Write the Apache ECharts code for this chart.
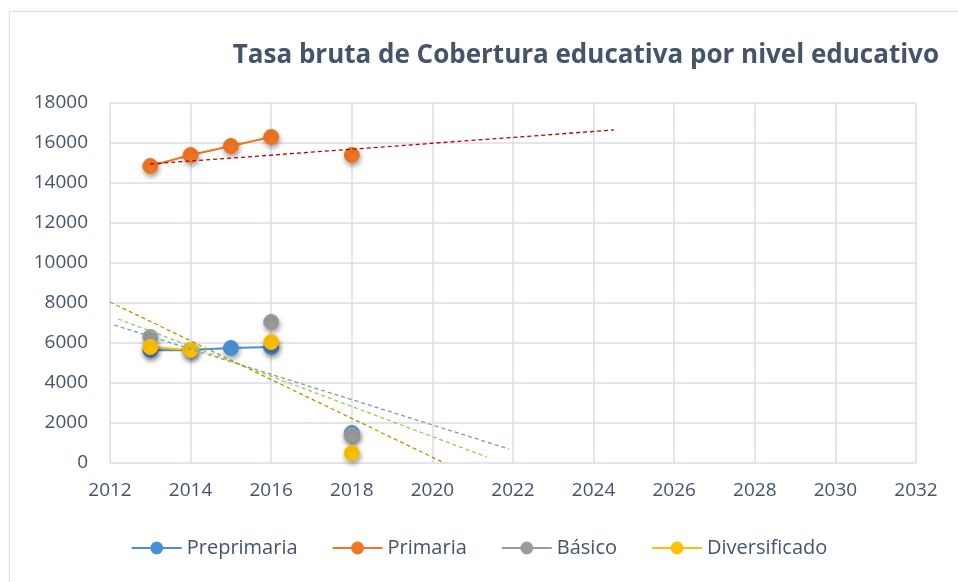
<!DOCTYPE html>
<html>
<head>
<meta charset="utf-8">
<script src="https://cdn.jsdelivr.net/npm/echarts@6/dist/echarts.min.js"></script>
<style>
  html, body { margin: 0; padding: 0; background: #fff; }
  #chart { width: 958px; height: 582px; }
</style>
</head>
<body>
<div id="chart"></div>
<script>
// años y valores (null = sin dato)
const years = [2013, 2014, 2015, 2016, 2017, 2018];
const preprimaria = [5650, 5650, 5750, 5800, null, 1500];
const primaria = [14850, 15400, 15850, 16300, null, 15400];
const basico = [6300, null, null, 7050, null, 1400];
const diversificado = [5800, 5650, null, 6050, null, 500];

// líneas de tendencia: [año, valor] inicio y fin
const trendPrimaria = [[2013, 14950], [2024.5, 16650]];
const trendPreprimaria = [[2012.1, 6900], [2021.9, 700]];
const trendBasico = [[2012.2, 7200], [2021.35, 300]];
const trendDiversificado = [[2012, 8050], [2020.3, 0]];

const xTicks = [2012, 2032, 2];
const yTicks = [0, 18000, 2000];

const textColor = '#44546A';
const fontFamily = '"Open Sans", "Liberation Sans", sans-serif';

const chart = echarts.init(document.getElementById('chart'));

function pairs(vals) {
  return years.map((y, i) => [y, vals[i]]);
}

function dataSeries(name, color, vals) {
  return {
    name: name,
    type: 'line',
    data: pairs(vals),
    connectNulls: false,
    symbol: 'circle',
    symbolSize: 15,
    lineStyle: { color: color, width: 2.25 },
    itemStyle: {
      color: color,
      borderColor: color,
      shadowColor: 'rgba(0,0,0,0.35)',
      shadowBlur: 5,
      shadowOffsetX: 1,
      shadowOffsetY: 3
    },
    z: 3
  };
}

function trendSeries(color, pts) {
  return {
    type: 'line',
    data: pts,
    symbol: 'none',
    silent: true,
    lineStyle: { color: color, width: 1.3, type: [4, 3] },
    z: 4
  };
}

chart.setOption({
  animation: false,
  backgroundColor: '#fff',
  textStyle: { fontFamily: fontFamily },
  title: {
    text: 'Tasa bruta de Cobertura educativa por nivel educativo',
    right: 14,
    top: 38,
    textStyle: { fontSize: 26, fontWeight: 'bold', color: textColor, fontFamily: fontFamily }
  },
  graphic: [{
    type: 'rect',
    shape: { x: 9.5, y: 11.5, width: 960, height: 580 },
    style: { fill: 'none', stroke: '#D9DEE6', lineWidth: 1 },
    silent: true
  }],
  legend: {
    bottom: 19,
    left: 'center',
    itemGap: 34,
    itemWidth: 50,
    itemHeight: 16,
    data: ['Preprimaria', 'Primaria', 'Básico', 'Diversificado'],
    textStyle: { fontSize: 20, color: textColor, fontFamily: fontFamily }
  },
  grid: { left: 110, right: 42, top: 103, bottom: 119 },
  xAxis: {
    type: 'value',
    min: xTicks[0],
    max: xTicks[1],
    interval: xTicks[2],
    axisLine: { show: false },
    axisTick: { show: false },
    axisLabel: { fontSize: 19, color: textColor, margin: 18, fontFamily: fontFamily, formatter: v => String(v) },
    splitLine: { show: true, lineStyle: { color: '#D9DDE5', width: 1.5 } }
  },
  yAxis: {
    type: 'value',
    min: yTicks[0],
    max: yTicks[1],
    interval: yTicks[2],
    axisLine: { show: false },
    axisTick: { show: false },
    axisLabel: { fontSize: 19, color: textColor, margin: 22, fontFamily: fontFamily, formatter: v => String(v) },
    splitLine: { show: true, lineStyle: { color: '#D9DDE5', width: 1.5 } }
  },
  series: [
    trendSeries('#8497B0', trendPreprimaria),
    trendSeries('#92D050', trendBasico),
    trendSeries('#BF9000', trendDiversificado),
    trendSeries('#C00000', trendPrimaria),
    dataSeries('Preprimaria', '#4A90D9', preprimaria),
    dataSeries('Primaria', '#F07622', primaria),
    dataSeries('Básico', '#9B9B9B', basico),
    dataSeries('Diversificado', '#FFC000', diversificado)
  ]
});
</script>
</body>
</html>
